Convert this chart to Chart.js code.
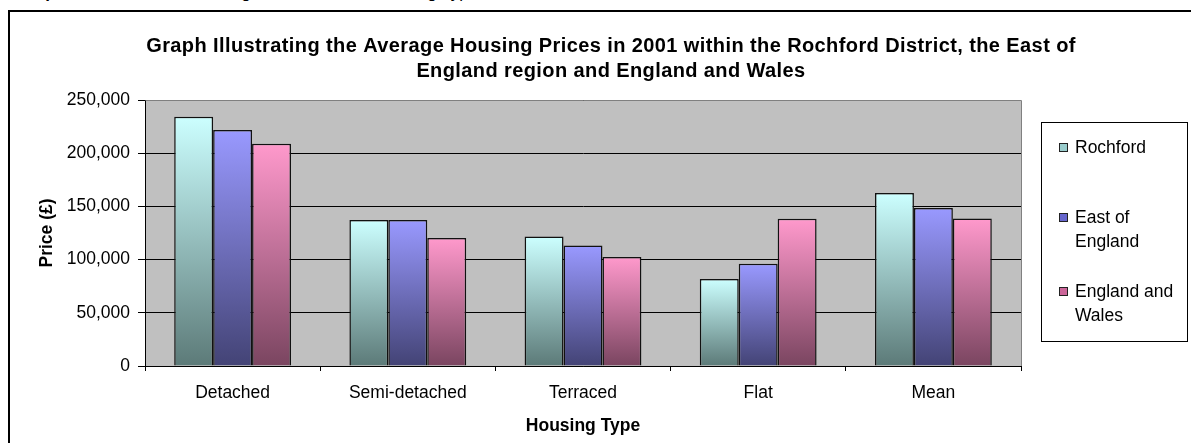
<!DOCTYPE html>
<html>
<head>
<meta charset="utf-8">
<title>Average Housing Prices 2001</title>
<script src="https://cdn.jsdelivr.net/npm/chart.js@4.4.0/dist/chart.umd.min.js"></script>
<style>
    body { margin: 0; background: #fff; overflow: hidden; }
    #wrap { position: relative; width: 1191px; height: 443px; overflow: hidden; }
    #heading {
        position: absolute; left: 16px; top: -17px;
        font: 17px "Liberation Sans", Arial, sans-serif;
        line-height: 20px; white-space: nowrap; color: #000;
    }
    #frame {
        position: absolute; left: 8px; top: 10px;
        width: 1300px; height: 600px;
        border: 2px solid #000;
    }
    #price-chart { position: absolute; left: 0; top: 0; }
</style>
</head>
<body>
<div id="wrap">
    <div id="heading"><b>Graph 3:</b> The Rochford Average Price for each Housing Type</div>
    <div id="frame"></div>
    <canvas id="price-chart" width="1191" height="443"></canvas>
</div>

<script>
const housingTypes = ["Detached", "Semi-detached", "Terraced", "Flat", "Mean"];
const areaNames = ["Rochford", "East of England", "England and Wales"];

// average price (£) per housing type, 2001
const rochfordPrices = [234300, 137200, 121600, 81800, 162500];
const eastOfEnglandPrices = [221800, 137200, 113200, 96000, 148600];
const englandWalesPrices = [208900, 120300, 102500, 138300, 138600];

const priceTicks = [0, 50000, 100000, 150000, 200000, 250000];

const titleLines = [
    "Graph Illustrating the Average Housing Prices in 2001 within the Rochford District, the East of",
    "England region and England and Wales"
];

// bar shading: light at the top, dark at the base
const topColors = ["#CCFFFF", "#9999FF", "#FF99CC"];
const bottomColors = ["#5C7A78", "#434375", "#7A4560"];
const keyColors = ["#99CCCC", "#6666CC", "#CC6699"];

const FONT = '"Liberation Sans", Arial, sans-serif';
Chart.defaults.font.family = FONT;
Chart.defaults.font.size = 17.5;
Chart.defaults.color = "#000";

function barFill(i) {
    return function(context) {
        const chart = context.chart;
        const y = chart.scales.y;
        if (!y || !context.parsed) return topColors[i];
        const top = y.getPixelForValue(context.parsed.y);
        const base = y.getPixelForValue(0);
        if (!isFinite(top) || !isFinite(base) || top === base) return topColors[i];
        const g = chart.ctx.createLinearGradient(0, top, 0, base);
        g.addColorStop(0, topColors[i]);
        g.addColorStop(1, bottomColors[i]);
        return g;
    };
}

const seriesValues = [rochfordPrices, eastOfEnglandPrices, englandWalesPrices];

const datasets = areaNames.map((name, i) => ({
    label: name,
    data: seriesValues[i],
    backgroundColor: barFill(i),
    borderColor: "#111",
    borderWidth: 1.5,
    categoryPercentage: 3 / 4.5,
    barPercentage: 1
}));

// grey plot area with a thin grey top/right edge
const plotBackground = {
    id: "plotBackground",
    beforeDraw(chart) {
        const { ctx, chartArea: a } = chart;
        ctx.save();
        ctx.fillStyle = "#C0C0C0";
        ctx.fillRect(a.left, a.top, a.right - a.left, a.bottom - a.top);
        ctx.restore();
    },
    beforeDatasetsDraw(chart) {
        const { ctx, chartArea: a } = chart;
        ctx.save();
        ctx.strokeStyle = "#808080";
        ctx.lineWidth = 1;
        ctx.beginPath();
        ctx.moveTo(Math.round(a.left) + 0.5, Math.round(a.top) + 0.5);
        ctx.lineTo(Math.round(a.right) + 0.5, Math.round(a.top) + 0.5);
        ctx.lineTo(Math.round(a.right) + 0.5, Math.round(a.bottom));
        ctx.stroke();
        ctx.restore();
    }
};

// two-line bold title over the chart
const chartHeading = {
    id: "chartHeading",
    afterDraw(chart) {
        const ctx = chart.ctx;
        ctx.save();
        ctx.font = "bold 20px " + FONT;
        ctx.letterSpacing = "0.4px";
        ctx.fillStyle = "#000";
        ctx.textAlign = "center";
        ctx.textBaseline = "alphabetic";
        titleLines.forEach((line, n) => {
            ctx.fillText(line, 611, 52 + n * 25);
        });
        ctx.restore();
    }
};

// boxed key on the right, labels wrapped to the box width
const sideKey = {
    id: "sideKey",
    afterDraw(chart) {
        const ctx = chart.ctx;
        const box = { x: 1041.5, y: 122.5, w: 146, h: 219 };
        const rowTops = [143, 213, 287];
        const maxText = 108;
        ctx.save();
        ctx.fillStyle = "#fff";
        ctx.fillRect(box.x, box.y, box.w, box.h);
        ctx.strokeStyle = "#000";
        ctx.lineWidth = 1;
        ctx.strokeRect(box.x, box.y, box.w, box.h);

        ctx.font = "17.5px " + FONT;
        ctx.textAlign = "left";
        ctx.textBaseline = "alphabetic";
        chart.data.datasets.forEach((ds, i) => {
            const y = rowTops[i];
            ctx.fillStyle = keyColors[i];
            ctx.fillRect(1059, y, 9, 9);
            ctx.strokeStyle = "#222";
            ctx.strokeRect(1059.5, y + 0.5, 8, 8);

            // simple word wrap
            const words = ds.label.split(" ");
            const lines = [];
            let cur = "";
            words.forEach(w => {
                const test = cur ? cur + " " + w : w;
                if (cur && ctx.measureText(test).width > maxText) {
                    lines.push(cur);
                    cur = w;
                } else {
                    cur = test;
                }
            });
            lines.push(cur);
            ctx.fillStyle = "#000";
            lines.forEach((l, n) => ctx.fillText(l, 1075, y + 10 + n * 24));
        });
        ctx.restore();
    }
};

new Chart(document.getElementById("price-chart"), {
    type: "bar",
    data: {
        labels: housingTypes,
        datasets: datasets
    },
    options: {
        responsive: false,
        animation: false,
        layout: {
            padding: { left: 30, top: 100, right: 170, bottom: 0 }
        },
        plugins: {
            legend: { display: false },
            title: { display: false },
            tooltip: { enabled: false }
        },
        scales: {
            x: {
                grid: {
                    display: true,
                    drawOnChartArea: false,
                    drawTicks: true,
                    tickLength: 5,
                    color: "#000",
                    offset: true
                },
                border: { color: "#000", width: 1 },
                ticks: { padding: 11.5, maxRotation: 0, color: "#000" },
                title: {
                    display: true,
                    text: "Housing Type",
                    color: "#000",
                    font: { size: 17.5, weight: "bold" },
                    padding: { top: 0, bottom: 6.5 }
                },
                afterFit: function(scale) {
                    scale.height = 77;
                }
            },
            y: {
                min: 0,
                max: 250000,
                afterBuildTicks: function(scale) {
                    scale.ticks = priceTicks.map(v => ({ value: v }));
                },
                grid: { color: "#000", tickLength: 7 },
                border: { color: "#000", width: 1 },
                ticks: {
                    padding: 8,
                    color: "#000",
                    callback: v => v.toLocaleString("en-GB")
                },
                title: {
                    display: true,
                    text: "Price (£)",
                    color: "#000",
                    font: { size: 17.5, weight: "bold" },
                    padding: { top: 6.5, bottom: 0 }
                },
                afterFit: function(scale) {
                    scale.width = 115;
                }
            }
        }
    },
    plugins: [plotBackground, chartHeading, sideKey]
});
</script>
</body>
</html>
